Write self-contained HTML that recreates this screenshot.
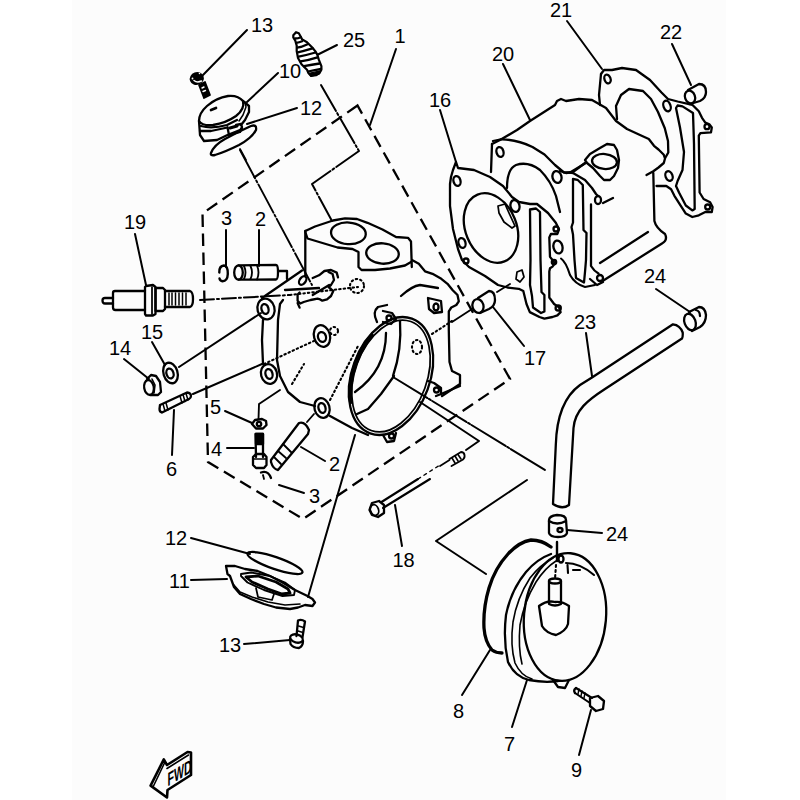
<!DOCTYPE html>
<html><head><meta charset="utf-8"><style>
html,body{margin:0;padding:0;background:#fff;width:800px;height:800px;overflow:hidden}
svg{display:block}
text{font-family:"Liberation Sans",sans-serif;font-size:20px;fill:#000}
</style></head><body>
<svg width="800" height="800" viewBox="0 0 800 800">
<rect x="72" y="0" width="654" height="800" fill="#fcfcfc"/>
<g id="labels">
<text x="251" y="32">13</text>
<text x="343" y="47">25</text>
<text x="394.5" y="43">1</text>
<text x="279" y="78">10</text>
<text x="300" y="115">12</text>
<text x="550" y="17">21</text>
<text x="660" y="39">22</text>
<text x="492" y="61">20</text>
<text x="429" y="107">16</text>
<text x="124" y="229">19</text>
<text x="221" y="225">3</text>
<text x="255" y="226">2</text>
<text x="644" y="283">24</text>
<text x="574" y="329">23</text>
<text x="524" y="364.5">17</text>
<text x="141" y="339">15</text>
<text x="109" y="355">14</text>
<text x="210" y="414">5</text>
<text x="211" y="456">4</text>
<text x="166" y="476">6</text>
<text x="329" y="471">2</text>
<text x="309" y="503">3</text>
<text x="392.5" y="567">18</text>
<text x="606" y="541">24</text>
<text x="165" y="545">12</text>
<text x="169" y="588">11</text>
<text x="219" y="652">13</text>
<text x="453" y="718">8</text>
<text x="504" y="751">7</text>
<text x="571" y="777">9</text>
</g>
<g id="leaders" fill="none" stroke="#000" stroke-width="2" stroke-linecap="round">
<path d="M247 30L203 75"/>
<path d="M337 45L317 55"/>
<path d="M278 73L247 102"/>
<path d="M297 108L247 124"/>
<path d="M396 49L370 125"/>
<path d="M567 21L602 69"/>
<path d="M672 44L691 85"/>
<path d="M503 64L530 120"/>
<path d="M440 110L456 162"/>
<path d="M135 234L146 285"/>
<path d="M226 230L226 267"/>
<path d="M259 230L259 266"/>
<path d="M656 289L690 312"/>
<path d="M493 307L524 346"/>
<path d="M152 342L165 365"/>
<path d="M124 359L149 379"/>
<path d="M174 410L172 455"/>
<path d="M225 411L252 423"/>
<path d="M227 448L254 448"/>
<path d="M301 447L325 461"/>
<path d="M279 485L304 493"/>
<path d="M395 505L402 546"/>
<path d="M567 530L602 533"/>
<path d="M191 538L250 554"/>
<path d="M191 580L227 579"/>
<path d="M244 644L290 640"/>
<path d="M490 650L462 695"/>
<path d="M527 680L512 727"/>
<path d="M591 710L579 755"/>
</g>

<g id="head" fill="none" stroke="#000" stroke-width="2.3" stroke-linejoin="round" stroke-linecap="round">
<!-- stepped leader path from 25 -->
<path d="M321 85L359 151L312 184L332 221" stroke-width="2" stroke-dasharray="30 2.5 2 2.5"/>
<!-- line from gasket 12 top to head -->
<path d="M240 150L312 285" stroke-width="1.9" stroke-dasharray="32 2.5 2 2.5"/>
<!-- top flange -->
<path d="M305.3 231L315 226.5L333 220.5L345 218.3L357 219L367.5 222.8L382.5 229.5L396 237L408 237.8L411 241.5L411.8 267"/>
<path d="M305.3 232L307.5 238.5L322.5 243L337.5 247.5L352.5 249L358.5 252L358.5 267L361.5 270L375 270L390 268.5L405 265.5L411 262"/>
<path d="M305.3 231L305.3 276"/>
<ellipse cx="348.4" cy="233.3" rx="17.4" ry="10.8" transform="rotate(4 348.4 233.3)"/>
<ellipse cx="382.5" cy="253.5" rx="16.3" ry="10.2" transform="rotate(4 382.5 253.5)"/>
<!-- right side -->
<path d="M412 260L418.8 263.8L425 271.3L432.5 273.8L441.3 278.8L447.5 283.8L452.5 290L457.5 295L458.8 301.3L456.3 305L451.3 307.5L448.8 311.3L448.8 330L449.5 362L452 371L460 375L460 384L442 396"/>
<path d="M401 296Q412 286 420 285L438 288"/>
<path d="M428 298L429 309L434 313L442 312L441 301Z"/>
<ellipse cx="436" cy="307" rx="2.5" ry="3.5"/>
<path d="M441 394L460 386"/>
<!-- left bosses -->
<ellipse cx="266" cy="309" rx="8.5" ry="10.5" transform="rotate(-15 266 309)"/>
<ellipse cx="265" cy="309" rx="3.5" ry="5" transform="rotate(-15 265 309)"/>
<ellipse cx="269" cy="374" rx="8" ry="10" transform="rotate(-15 269 374)"/>
<ellipse cx="269" cy="374" rx="3.5" ry="5" transform="rotate(-15 269 374)"/>
<ellipse cx="322" cy="408" rx="7.5" ry="10" transform="rotate(-15 322 408)"/>
<ellipse cx="322" cy="408" rx="3.5" ry="5" transform="rotate(-15 322 408)"/>
<ellipse cx="322" cy="336" rx="8" ry="11" transform="rotate(-15 322 336)"/>
<ellipse cx="322" cy="337" rx="4" ry="5" transform="rotate(-15 322 337)"/>
<path d="M262 298L302 270.5"/>
<path d="M263 320L262 340L263 364"/>
<path d="M283 300L280 304L278 320L277 360L280 376L288 392L300 402L315 406"/>
<path d="M330 416L352 428L368 435"/>
<!-- bracket near top -->
<ellipse cx="302.7" cy="280.5" rx="3" ry="4.8" transform="rotate(35 302.7 280.5)"/>
<path d="M312.7 278L319 275.3L324.4 271L331 270L336.7 272.6L338 277.4"/>
<path d="M328.5 272L332.6 274L334 280L331 285L328.5 287L331 289L333.3 291L331 296L327 299.4L322.3 300.7L320.2 299.4L317.5 298.7L310.6 300L303.7 302L300.3 303.5L297.6 300.7L297.6 294.6L299.6 292.5"/>
<path d="M312.7 295L329.2 285"/>
<path d="M297.6 303L299.6 307.6"/>
<path d="M285 290L319 288"/>
<path d="M279 271L287 271L287 279"/>
<!-- intake ring -->
<ellipse cx="391" cy="376" rx="39" ry="61" transform="rotate(20 391 376)"/>
<ellipse cx="391" cy="376" rx="36" ry="58" transform="rotate(20 391 376)" stroke-width="1.75"/>
<path d="M350.9 402.1L350.5 398.5L350.3 394.8L350.3 390.9L350.5 387.0L350.9 383.1L351.5 379.1L352.3 375.1L353.3 371.1L354.4 367.1L355.8 363.2L357.3 359.3L358.9 355.5L360.8 351.8L362.7 348.3L364.8 344.8L367.1 341.5L369.4 338.4L371.9 335.5" stroke-width="4"/>
<path d="M386 333Q386 370 355 392"/>
<path d="M400 321Q402 350 393 376"/>
<path d="M394 376L381 394L368 409L357 414"/>
<path d="M383 311L392 313L396 319L391 324L383 322"/>
<path d="M377 322Q372 312 378 307L387 305"/>
<circle cx="389" cy="318" r="2.5"/>
<path d="M383 435L387 442L394 441L396 433"/>
<circle cx="391.5" cy="436" r="2.5"/>
<path d="M428 381L434 383L441 388L441 394L436 396"/>
<circle cx="436.5" cy="390" r="2.5"/>
</g>
<g id="dotted" fill="none" stroke="#000" stroke-width="2.1" stroke-dasharray="1.5 3" stroke-linecap="round">
<path d="M290 295L358 287"/>
<circle cx="357" cy="286" r="7"/>
<path d="M264 364L316 340"/>
<circle cx="334" cy="331" r="4"/>
<path d="M292 384L304 364"/>
<path d="M330 400L358 346"/>
<ellipse cx="417" cy="347" rx="5" ry="7"/>
<path d="M432 334L452 321"/>
</g>

<g id="cyl" fill="none" stroke="#000" stroke-width="2.3" stroke-linejoin="round" stroke-linecap="round">
<!-- gasket 21 (back) -->
<path d="M601 74L604 70L612 70L622 68L636 70L650 80L661.5 92.5L668 99L677.6 101.5L692.3 104.8L698.8 111.3L702 117.8L705.3 122.6L709.3 124.3L711.8 127.5L711 132.4L700.4 133.2L698.8 135.6L699.6 192.5L703.6 199L710.1 202.3L712.6 207L711.8 212L705.3 212L698.8 215.3L692.3 217L685.8 213.6L674.4 195.8L671.1 189.3L666.3 186L656.5 186"/>
<path d="M601 74L599 95L600 105"/>
<path d="M617 119L616 106L621 95L629 89L643 91L651 99L658 112L664.8 128.3L668 141L668.3 152.5L665.3 157.8"/>
<path d="M676 108L677.6 105.5L682.5 106.4L693 113L694 144L694.7 209L692.3 210.4L685.8 205.5L679 192.5L676 186L677.6 181L682.5 170L684 152L680 127.5Z"/>
<ellipse cx="607.5" cy="79" rx="3" ry="4.5" transform="rotate(-20 607.5 79)"/>
<ellipse cx="667" cy="106" rx="3.5" ry="5.5" transform="rotate(-20 667 106)"/>
<ellipse cx="669" cy="176" rx="3.5" ry="5" transform="rotate(-20 669 176)"/>
<circle cx="707" cy="126.7" r="2.5"/>
<circle cx="707.7" cy="207" r="2.5"/>
<!-- dowel 22 -->
<path d="M688 90L699 84Q706 84 706 92Q706 98 700 101L690 104"/>
<ellipse cx="690" cy="97" rx="5" ry="6.5" transform="rotate(-20 690 97)"/>
<!-- cylinder 20 -->
<path d="M492 144L500 140L517 130L530 121L555 105L557 101L561 99L566 101L579 99L592 100L606 108L616 121L627 129L640 135L648.8 139L654 145.8L658.5 149.5L663.8 154.8L665 158.5L663.8 163L658.5 167.5L653.3 171.3L646.5 175M653.3 172.8L654.4 221Q656 228 665 234Q668 240 662 243.5L601 282"/>
<path d="M600 263L648 232"/>
<path d="M492 144L491 172"/>
<ellipse cx="500" cy="152" rx="3.5" ry="5" transform="rotate(-15 500 152)"/>
<path d="M507 188Q507 169 516 165Q528 161 540 170Q551 181 556 196L560 212"/>
<path d="M493 141L500 139.5Q516 139 532.5 147L544.5 154.5L555 165L564 172.5L570 172.5L585 163.5"/>
<ellipse cx="557" cy="177" rx="4.5" ry="6" transform="rotate(-15 557 177)"/>
<path d="M570 172.5L573 173L585 180L592 188L596 194L598 196"/>
<path d="M591 204.5L591 266Q594 271 598.5 273.5"/>
<path d="M585 160L590 154L600 148L607 144L614 145L617 150L619 160L618 168L614 176L610 180L604 180L600 176L593 168L587 163Z"/>
<path d="M585 163L573 172L566 173L560 171"/>
<ellipse cx="604.5" cy="161.5" rx="12.5" ry="7.5" transform="rotate(5 604.5 161.5)"/>
<ellipse cx="598" cy="200" rx="3" ry="4"/>
<path d="M603 203L613 198"/>
<path d="M573 179L577.5 179.8L582.8 185L583.5 230L586.5 233L586 260L585 272L584 282.5L576 278L574.5 260L573 234.5L571.5 227L573 222.5Z"/>
<path d="M561 258.5Q566 262 570 275Q575 284 585 287L595 285" stroke-width="2.1"/>
<circle cx="600" cy="278" r="3"/>
<path d="M590 279L597 285L603 282"/>
<ellipse cx="558" cy="247" rx="4.5" ry="6.5" transform="rotate(-15 558 247)"/>
<!-- gasket 16 (front) -->
<path d="M456 162L453 170L451 177L450 184L450 206L453 229L458 249L462 260L469 267L485 276L498 285L507.5 287.5L518.8 288.8L523.3 291L526.5 304L529.8 312.1L539.5 317L544.4 318.6L552.5 317L557.4 315.4L560.6 312.1L559 307.3L554.1 304L549.3 297.5L549.3 271.5L550 268.3L552.5 266.6L555 263.4L552.5 260L550 256.9L549.3 237.4L550.9 234L557.4 234L559 229.3L555.8 222.8L548 213L537 204L530 204L519 202L512 197L503 186L490 177L474 170L458 168Z"/>
<ellipse cx="491" cy="228" rx="25.5" ry="36" transform="rotate(-22 491 228)"/>
<path d="M498 206L505 204L509 213L515 226L512 228L504 222L499 213Z" stroke-width="1.75"/>
<ellipse cx="457" cy="181" rx="3.5" ry="5" transform="rotate(-15 457 181)"/>
<ellipse cx="462" cy="243" rx="3.5" ry="5" transform="rotate(-15 462 243)"/>
<circle cx="466" cy="261" r="2.5"/>
<ellipse cx="515" cy="206" rx="4.5" ry="6" transform="rotate(-15 515 206)"/>
<circle cx="556" cy="229" r="2.5"/>
<circle cx="558.2" cy="308" r="2.6"/>
<circle cx="554" cy="262" r="2.2"/>
<path d="M517 272L522 270L524 277L520 282L516 279Z" stroke-width="1.75"/>
<path d="M530 209.5L536 208.5L540 212L540.5 260L541.5 292L544.4 295L544.4 311.5L541 313L533 307.5L532 296L530 285L530.5 260Z"/>
<!-- dowel 17 -->
<path d="M478 298L489 291Q495 291 495 300Q495 306 489 309L480 313"/>
<ellipse cx="478" cy="306" rx="5.5" ry="7" transform="rotate(-15 478 306)"/>
<path d="M497 292L510 284" stroke-width="1.85"/>
<path d="M472 309L452 322" stroke-width="1.85"/>
</g>

<g id="lower" fill="none" stroke="#000" stroke-width="2.3" stroke-linejoin="round" stroke-linecap="round">
<!-- pipe 23 -->
<path d="M553 504L555.8 445C556.5 420 562 398 580 385L592 377.5L673 324.3Q680 325 682.7 332.5Q683 337 682 338.5L605 389C588 400 575 410 573.5 428L569 505Q562 510 553 504Z"/>
<path d="M592 376L586 333" stroke-width="2"/>
<!-- part 24 upper -->
<path d="M689 312L699 307Q705 307 706 315Q706 323 700 327L692 331"/>
<ellipse cx="690" cy="322" rx="5.5" ry="8.5" transform="rotate(-20 690 322)"/>
<path d="M696 310Q700 311 700 316"/>
<!-- part 24 lower -->
<path d="M549 520Q549 516 557 515Q566 515 566 520L567 533Q566 537 558 537Q550 537 549 533Z"/>
<path d="M549 521Q557 526 566 521"/>
<ellipse cx="560" cy="530" rx="2.5" ry="2"/>
<!-- long line from ring & bolt center lines -->
<path d="M393 377L545 470" stroke-width="2" stroke-dasharray="40 2 2 2"/>
<path d="M420 402L479 441L466 450" stroke-width="2"/>
<path d="M449.5 459L461 452Q464 452 464.5 455Q465 458 463 459.5L451.5 466" stroke-width="1.85"/>
<path d="M452 458L455 463M455 456L458 461M458 454.5L461 459" stroke-width="1.6"/>
<path d="M440 466L449.5 460" stroke-width="1.75"/>
<!-- bracket < to pump -->
<path d="M527 480L436 541L486 574" stroke-width="2"/>
<!-- bolt 18 -->
<path d="M381.5 502L418 479M383 508L430 479" stroke-width="2.1"/>
<path d="M418 479L440 465" stroke-width="1.4" stroke-dasharray="3 4"/>
<path d="M372 503L379 501L384 505L384 513L378 517L372 515L369.5 510Z"/>
<ellipse cx="374.5" cy="510" rx="4" ry="5.5" transform="rotate(-20 374.5 510)" stroke-width="1.75"/>
<!-- o-ring 8 -->
<path d="M551 547Q542 540 531 540Q519 542 508 554Q495 568 489 588Q483 608 484 628Q485 642 492 650Q496 653 502 653" stroke-width="3.3"/>
<!-- pump cover 7 -->
<path d="M551 554Q537 559 526 572Q511 590 506 615Q503 640 508 662Q515 677 529 680Q545 683 558 681"/>
<path d="M553 558Q540 565 530 578Q517 598 513 622Q510 645 515 663Q521 676 532 679" stroke-width="1.6"/>
<path d="M556 561Q545 568 536 582Q524 602 520 625Q518 648 522 664" stroke-width="1.6"/>
<ellipse cx="565" cy="617" rx="41" ry="64" transform="rotate(5 565 617)"/>
<path d="M557 542L557 561" stroke-width="2.4"/>
<path d="M556 565L555 579" stroke-width="2.1" stroke-dasharray="2 3"/>
<ellipse cx="561" cy="559" rx="2.5" ry="3.5"/>
<path d="M566 563Q580 563 594 575" stroke-width="2.1"/>
<path d="M567.5 565L568 573M573 570L580 570" stroke-width="2.1"/>
<path d="M549 581L549 603M561 581L561 603"/>
<ellipse cx="555" cy="581" rx="6" ry="2.5"/>
<path d="M539 606Q547 600 555 602Q562 601 569 606L568 624Q566 631 556 635Q546 633 542 626Z" fill="#fff"/>
<path d="M549 602L549 604Q555 607 561 604L561 602" />
<path d="M553 680L558 687L565 688L569 680"/>
<!-- bolt 9 -->
<path d="M576 688L592 698M575 693L590 703" stroke-width="2.1"/>
<path d="M576 688Q573 690 575 693"/>
<path d="M590 698L598 696L604 701L603 709L596 711L590 706Z"/>
<path d="M579 689L578 694M582 691L581 696M585 693L584 698" stroke-width="1.4"/>
</g>

<g id="left" fill="none" stroke="#000" stroke-width="2.3" stroke-linejoin="round" stroke-linecap="round">
<!-- spark plug 19 -->
<path d="M113 298L105 298Q102.5 298 102.5 300.5Q102.5 303.5 105 303.5L113 303.5"/>
<path d="M145 291L115 291Q113 291 113 293L113 307.5Q113 310 115.5 310L145 310"/>
<path d="M145 287L146 286L153 285L155.5 287L155.5 314L153 315.5L146 315.5L145 314Z"/>
<path d="M152 287L152 314" stroke-width="1.75"/>
<path d="M155.5 288L163 288L165 290L165 309L163 311L155.5 311Z"/>
<path d="M165 291L190 291Q193 292 193 299Q193 306 190 307L165 307"/>
<path d="M169 293L169 305M172 293L172 305M175.5 293L175.5 305M179 293L179 305M182.5 293L182.5 305M186 293L186 305" stroke-width="1.5"/>
<path d="M200 300L290 295" stroke-width="2" stroke-dasharray="14 3 2 3"/>
<!-- washer 15 -->
<ellipse cx="170.5" cy="373" rx="7" ry="10.5" transform="rotate(-17 170.5 373)"/>
<ellipse cx="170" cy="373.5" rx="3.5" ry="5" transform="rotate(-17 170 373.5)"/>
<path d="M179 367L261 313" stroke-width="2"/>
<!-- nut 14 -->
<path d="M147 379L151 375L156 376L160 382L161 392L158 395L150 395" />
<ellipse cx="149" cy="387.5" rx="4.8" ry="7.5" transform="rotate(-10 149 387.5)"/>
<path d="M152 379L155 385L154 393" stroke-width="1.6"/>
<!-- stud 6 -->
<path d="M160 405L187 392.5Q191 393 191 396Q191 398 189 399L162 412.5Q159.5 412 159.5 409Z"/>
<path d="M163 404L165 411M166 403L168 410M180 396L182 403M183 394.5L185 401.5M186 393.5L188 400" stroke-width="1.5"/>
<path d="M193 394L262 364" stroke-width="2"/>
<!-- pin 2 upper -->
<ellipse cx="238.5" cy="272.5" rx="4.3" ry="7.2"/>
<path d="M238.5 265.3L276 265Q278 265 278 272Q278 279.5 276 279.5L238.5 279.7"/>
<path d="M244 266Q247 272.5 244 279M250.5 266Q253.5 272.5 250.5 279M257 265.5Q260 272.5 257 279.5" stroke-width="1.85"/>
<!-- clip 3 upper -->
<path d="M219.3 272.5Q219 266 224 265.5Q228 266 227.8 274Q227.5 281 222.5 281.3Q220 281 219.5 278.5" stroke-width="2.4"/>
<!-- pin 2 lower -->
<path d="M271 460L299 423Q305 421 309 430L308 434L278 470Q273 469 271 462Z"/>
<path d="M283 444L292 453M278 451L286 458M274 457L281 464" stroke-width="1.85"/>
<path d="M307 422L314 414" stroke-width="1.85"/>
<!-- washer 5 -->
<path d="M252 424L255 420L262 419L266 421L266.5 425L263 428.5L256 428.5Z"/>
<circle cx="259" cy="424" r="2.2"/>
<path d="M258.5 419L259 404L280 390" stroke-width="1.85"/>
<!-- bolt 4 -->
<path d="M256 457L255.5 434L263 434L263 457"/>
<path d="M256 434L256 444L263 444L263 434Z" fill="#000"/>
<path d="M253 457L256 454L264 454L266.5 457L266.5 465L264 468L256 468L253 465Z"/>
<path d="M254 459L266 459" stroke-width="1.6"/>
<!-- clip 3 lower -->
<path d="M261 472.5Q268 470 271 478" />
<path d="M263 475L264 479" stroke-width="1.75"/>
<!-- gasket 12 lower -->
<ellipse cx="275" cy="563" rx="29" ry="6" transform="rotate(19 275 563)"/>
<!-- part 11 -->
<path d="M226 566L227.5 574L230 576L234 587L240 594L251 599L264 604L276 607.5L290 609L298 607.5L305 605L312.5 606L315 602.5L312.5 599L307.5 596L295 590L282.5 582.5L270 576L257.5 571L245 569L235 566Z"/>
<path d="M241 574L251 572.5L270 576L285 582.5L295 590L294 595L282.5 596L264 590L247.5 582.5L241 576Z" stroke-width="1.85"/>
<path d="M246 577L258 576L276 582L288 589L290 593L282 594L268 589L252 582Z" stroke-width="2.8"/>
<path d="M233 584L240 592L252 597L268 602L285 605L300 604" stroke-width="1.6"/>
<path d="M256 588L258 597L272 600L274 594" stroke-width="1.75"/>
<path d="M308 597L355 435" stroke-width="2"/>
<!-- bolt 13 lower -->
<path d="M296.5 636L298 620.5Q301.5 619 305 621.5L302.5 637"/>
<path d="M298.5 626L303.5 627.5M298 631L303 632.5" stroke-width="1.6"/>
<ellipse cx="296.5" cy="638.5" rx="6.5" ry="4" transform="rotate(15 296.5 638.5)"/>
<path d="M290 639L290.5 644Q293 648 299 648Q303 646 303 641"/>
</g>

<g id="top" fill="none" stroke="#000" stroke-width="2.3" stroke-linejoin="round" stroke-linecap="round">
<!-- bolt 13 top -->
<ellipse cx="196.8" cy="78.5" rx="6" ry="5.3" transform="rotate(-20 196.8 78.5)" fill="#000" stroke-width="2.3"/>
<path d="M194 80.5Q197 83 201.5 81" stroke="#fff" stroke-width="1.5"/>
<circle cx="192.5" cy="78.5" r="0.9" fill="#fff" stroke="none"/><circle cx="199.5" cy="73.5" r="0.8" fill="#fff" stroke="none"/>
<path d="M199 85L205 82L210 95L204 98Z" fill="#000" stroke-width="1.75"/>
<path d="M202 88L204 87M203 91.5L205.5 90.5" stroke="#fff" stroke-width="1.4"/>
<!-- part 10 cap -->
<path d="M199 121Q199 113 207 106Q216 98 228 96Q238 95 243 101Q245 109 236 116Q226 123 213 125Q202 126 199 121Z"/>
<path d="M211 110L216 108" stroke-width="2.7"/>
<path d="M243 101L249 106L249 112L245 120L241 125"/>
<path d="M245 102L246 107L243 115L239 121" stroke-width="1.5"/>
<path d="M199 121L200 135L204 141L217 140L227.5 135L240 130L242 128"/>
<path d="M200 131L211 131L227.5 127.5"/>
<path d="M201 126Q212 129 227 125L237 120"/>
<path d="M227.5 127.5L229 135L240 132L242 127L241 124L236 125" />
<path d="M230 128L237 126" stroke-width="3.1"/>
<!-- gasket 12 top -->
<path d="M211 153Q214 145 225 139Q240 131 251 126Q257 124 256 130Q252 138 239 145Q225 152 215 155Q210 156 211 153Z"/>
<path d="M240 149L246 160" stroke-width="1.75"/>
<!-- part 25 -->
<path d="M293.3 35.3L296 32.2L298.8 33.3L300.8 36.7L302.2 39.4L307 42.2L312.5 47.7L315.2 51.1L317.3 54.6L318.7 59.4L321.4 66.2L321.4 69.7L319.4 73.1L316 75.2L311.1 75.9L308.4 73.1L307 69.7L301.5 64.2L298 58L296.7 51.1L296.7 45.6L295.3 40.8L293.3 37.4Z" fill="#fff" stroke-width="2.2"/>
<path d="M295.3 38.5Q298 38.5 300.8 37.2M296.3 42.9Q299 42.5 302.2 41.2M297.2 47.7Q302 47 307 44.5M297.8 52.3Q304 51 312.5 48.4M298.7 56.6Q307 55 315.5 52.5M300.5 61.4Q309 60 317.5 57.3M304 66.2Q312 64.5 319.6 63.5M308 71.5Q315 70 321 69" stroke-width="2.3"/>
<path d="M309 73.5Q314 72 320.5 71L319 74L311 76Z" fill="#000" stroke-width="1.5"/>
<!-- FWD arrow -->
<path d="M150.6 785.6L163.8 759.4L167 765L187.5 752L191 752.5L191 775L167.5 790L167 797.5Z" stroke-width="2.6"/>
<path d="M153 787L164.5 763M167 768.5L188.5 755" stroke-width="1.6"/>
</g>
<text x="0" y="0" transform="translate(167.5 786.5) skewY(-31) scale(0.56 1)" style="font-weight:bold;font-size:19px;font-family:'Liberation Sans',sans-serif">FWD</text>
<g id="dashrect" fill="none" stroke="#000" stroke-width="2.3" stroke-dasharray="12.5 6.5">
<path d="M357.5 105.5L202.5 213.5L208 462L303 519L510 379Z"/>
</g>
</svg>
</body></html>
